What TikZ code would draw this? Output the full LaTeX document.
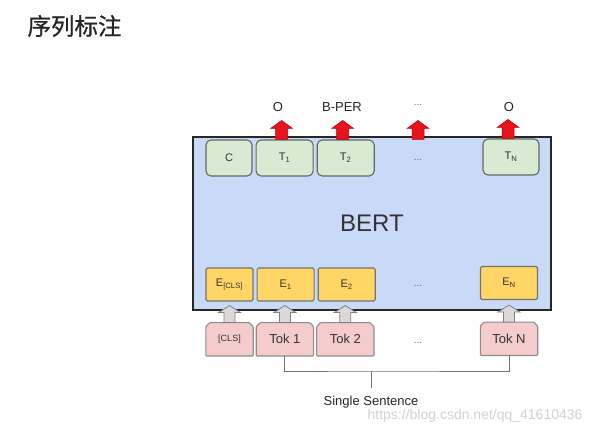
\documentclass[tikz,border=0pt]{standalone}
\usepackage{fontspec}
\setmainfont{Liberation Sans}
\newfontfamily\cjkfont[FakeBold=0.7]{Noto Sans CJK SC}
\usetikzlibrary{positioning, backgrounds}

\definecolor{bertblue}{HTML}{C9DAF8}
\definecolor{outgreen}{HTML}{D9EAD3}
\definecolor{embyellow}{HTML}{FFD666}
\definecolor{tokpink}{HTML}{F4CCCC}
\definecolor{uparrowred}{HTML}{E8141C}

\begin{document}
\begin{tikzpicture}[
            x=1pt, y=1pt,
            node distance=3pt,
            bert box/.style={draw=black!85, line width=1.6pt, fill=bertblue, minimum width=358pt, minimum height=173pt, font=\fontsize{24}{28}\selectfont, text=black!80},
            out box/.style={draw=black!60, line width=1.1pt, fill=outgreen, rounded corners=5pt, minimum width=57pt, minimum height=36pt, inner sep=0pt, font=\fontsize{11}{13}\selectfont, text=black!80},
            emb box/.style={draw=black!55, line width=1.1pt, fill=embyellow, rounded corners=1.5pt, minimum width=57pt, minimum height=33pt, inner sep=0pt, font=\fontsize{11}{13}\selectfont, text=black!80},
            tok box/.style={minimum width=57pt, minimum height=33pt, inner sep=0pt, font=\fontsize{13}{15}\selectfont, text=black!80},
            tok outline/.style={draw=black!45, line width=1.1pt, fill=tokpink, rounded corners=1pt},
            tag text/.style={font=\fontsize{13}{15}\selectfont, text=black!85},
            dots text/.style={font=\fontsize{10}{12}\selectfont, text=black!60},
            bracket/.style={draw=black!55, line width=0.9pt},
            out arrow/.pic={\draw[draw=red!70!black, line width=0.5pt, fill=uparrowred] (-6,0) -- (-6,11) -- (-11,11) -- (0,19) -- (11,11) -- (6,11) -- (6,0) -- cycle;},
            in arrow/.pic={\draw[draw=black!50, line width=0.8pt, fill=black!15] (-5.5,0) -- (-5.5,10) -- (-11,10) -- (0,17) -- (11,10) -- (5.5,10) -- (5.5,0) -- cycle;}
        ]

            \useasboundingbox (0,0) rectangle (595,-434);

            % --- Title ---
            \node[anchor=west, font=\cjkfont\fontsize{23.5}{27}\selectfont, text=black!85] (title) at (24,-26) {序列标注};

            % --- BERT block ---
            \node[bert box] (bert) at (372,-223.5) {BERT};

            % --- Output row ---
            \node[out box, minimum width=46pt] (c) at (229,-158) {C};
            \node[out box, right=of c] (t1) {T\textsubscript{1}};
            \node[out box, right=of t1] (t2) {T\textsubscript{2}};
            \node[dots text] (tdots) at (418,-160) {...};
            \node[out box, minimum width=56pt] (tn) at (511,-157) {T\textsubscript{N}};

            % --- Embedding row ---
            \node[emb box, minimum width=47pt] (ecls) at (229.5,-284.5) {E\textsubscript{[CLS]}};
            \node[emb box, right=of ecls] (e1) {E\textsubscript{1}};
            \node[emb box, right=of e1] (e2) {E\textsubscript{2}};
            \node[dots text] (edots) at (418,-286) {...};
            \node[emb box] (en) at (509,-283) {E\textsubscript{N}};

            % --- Token row ---
            \node[tok box, minimum width=47pt, font=\fontsize{9}{11}\selectfont] (tcls) [below=21pt of ecls] {[CLS]};
            \node[tok box, right=of tcls] (tok1) {Tok 1};
            \node[tok box, right=of tok1] (tok2) {Tok 2};
            \node[dots text] (tokdots) at (418,-343) {...};
            \node[tok box] (tokn) [below=22pt of en] {Tok N};

            % tab-shaped outlines behind the tokens
            \begin{scope}[on background layer]
            \foreach \t in {tcls, tok1, tok2, tokn}
                \draw[tok outline] (\t.south west) -- ([yshift=-4pt]\t.north west) -- ([xshift=4pt]\t.north west)
                    -- ([xshift=-4pt]\t.north east) -- ([yshift=-4pt]\t.north east) -- (\t.south east) -- cycle;
            \end{scope}

            % --- Arrows into BERT ---
            \pic at (tcls.north) {in arrow};
            \pic at (tok1.north) {in arrow};
            \pic at (tok2.north) {in arrow};
            \pic at (tokn.north) {in arrow};

            % --- Arrows out of BERT ---
            \pic at ([xshift=-3pt]t1.north) {out arrow};
            \pic at ([xshift=-3pt]t2.north) {out arrow};
            \pic at (tdots |- t1.north) {out arrow};
            \pic at ([xshift=-3pt]tn.north) {out arrow};

            % --- Tags ---
            \node[tag text] (tag1) at (278,-107) {O};
            \node[tag text] (tag2) at (342,-107) {B-PER};
            \node[dots text] (tagdots) at (418,-105) {...};
            \node[tag text] (tagn) at (509,-107) {O};

            % --- Sentence bracket ---
            \coordinate (mid) at (371,-371);
            \node[tag text, inner ysep=8pt] (sent) at (371,-402) {Single Sentence};
            \draw[bracket] (tok1.south) |- (mid) -| (tokn.south);
            \draw[bracket] (mid) -- (sent.north);

            % --- Watermark ---
            \node[font=\fontsize{14}{16}\selectfont, text=black!18, anchor=east] (mark) at (586,-416) {https://blog.csdn.net/qq\_41610436};

        \end{tikzpicture}
\end{document}
